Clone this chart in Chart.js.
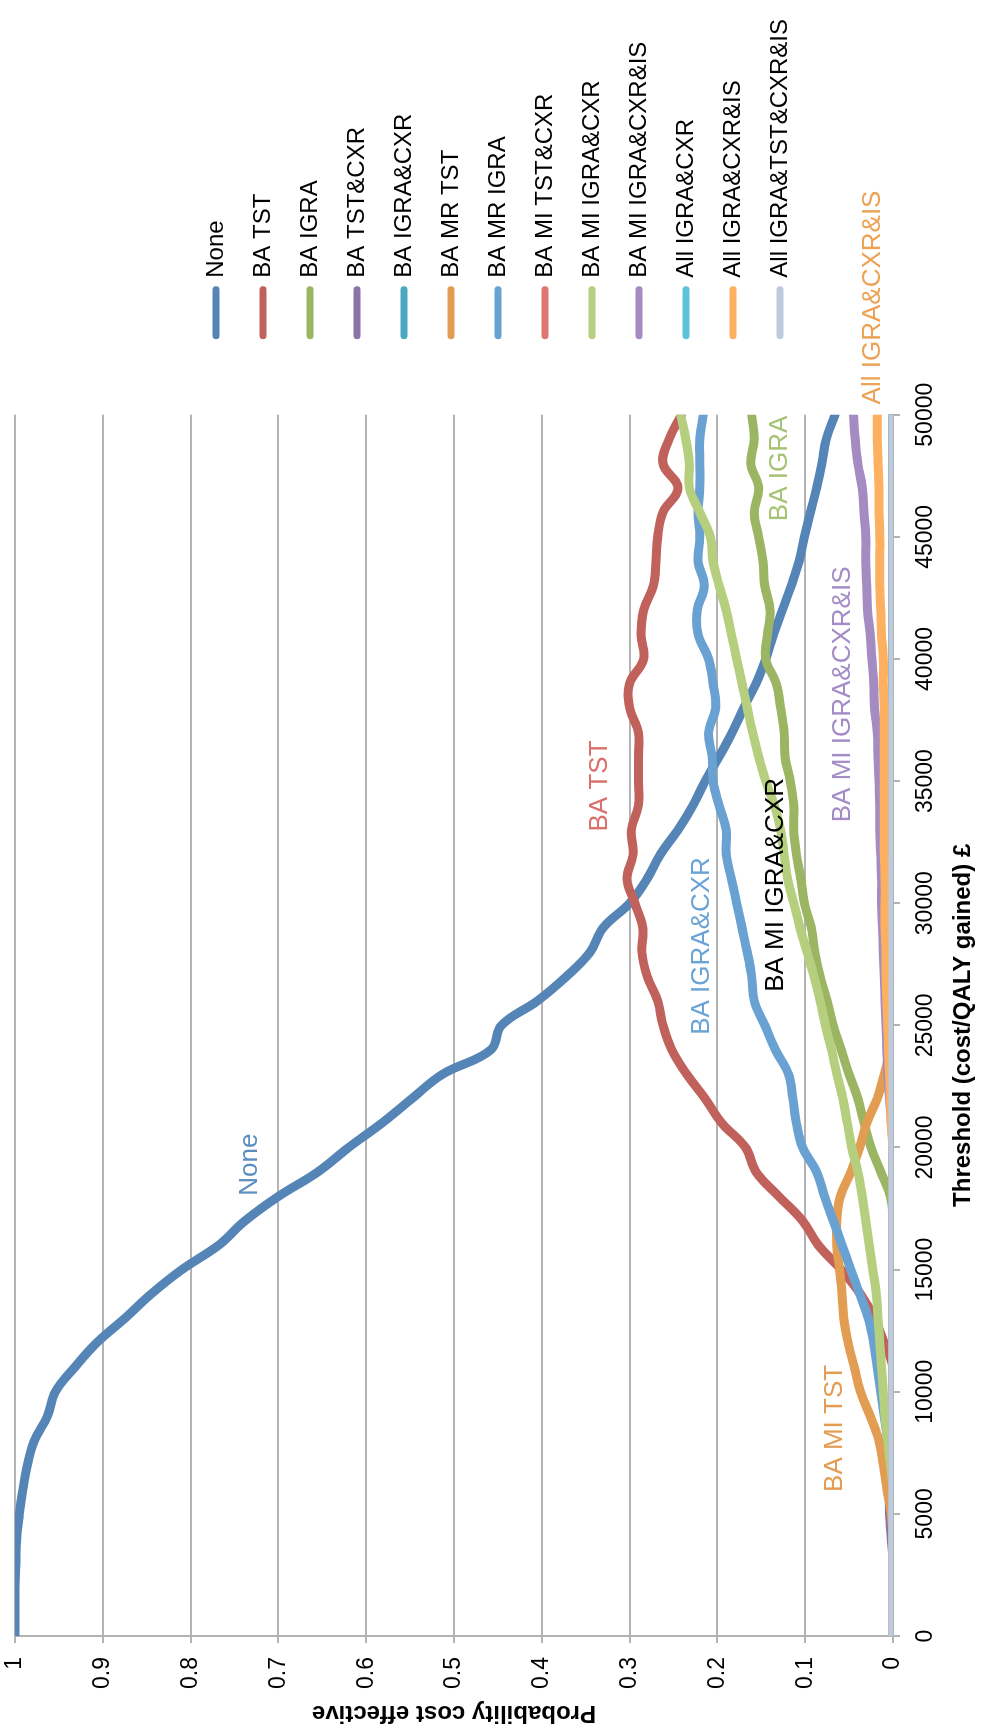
<!DOCTYPE html>
<html>
<head>
<meta charset="utf-8">
<title>Probability cost effective</title>
<script src="https://cdn.jsdelivr.net/npm/chart.js@4/dist/chart.umd.min.js"></script>
<style>
    html, body {
        margin: 0;
        padding: 0;
        background: #fff;
        overflow: hidden;
    }
    /* the chart is laid out landscape and turned a quarter turn to fit the page */
    #wrap {
        position: absolute;
        left: 0;
        top: 0;
        width: 1735px;
        height: 981px;
        transform-origin: 0 0;
        transform: translate(0, 1735px) rotate(-90deg);
    }
</style>
</head>
<body>
<div id="wrap">
    <canvas id="ceacChart" width="1735" height="981"></canvas>
</div>
<script>
// willingness-to-pay thresholds (£ per QALY gained)
var thresholds = [0, 1000, 2000, 3000, 4000, 5000, 6000, 7000, 8000, 9000,
    10000, 11000, 12000, 13000, 14000, 15000, 16000, 17000, 18000, 19000,
    20000, 21000, 22000, 23000, 24000, 25000, 26000, 27000, 28000, 29000,
    30000, 31000, 32000, 33000, 34000, 35000, 36000, 37000, 38000, 39000,
    40000, 41000, 42000, 43000, 44000, 45000, 46000, 47000, 48000, 49000, 50000];

var seriesNames = ['None', 'BA TST', 'BA IGRA', 'BA TST&CXR', 'BA IGRA&CXR', 'BA MR TST',
    'BA MR IGRA', 'BA MI TST&CXR', 'BA MI IGRA&CXR', 'BA MI IGRA&CXR&IS',
    'All IGRA&CXR', 'All IGRA&CXR&IS', 'All IGRA&TST&CXR&IS'];

var noneVals = [1, 1, 1, 0.999, 0.998, 0.995, 0.991, 0.986, 0.978, 0.963,
    0.954, 0.932, 0.907, 0.875, 0.845, 0.81, 0.768, 0.738, 0.7, 0.655,
    0.62, 0.582, 0.548, 0.513, 0.458, 0.446, 0.405, 0.372, 0.345, 0.33,
    0.3, 0.28, 0.265, 0.245, 0.228, 0.214, 0.198, 0.183, 0.17, 0.156,
    0.145, 0.136, 0.126, 0.116, 0.107, 0.101, 0.094, 0.087, 0.081, 0.076, 0.066];

var baTstVals = [0, 0, 0, 0, 0, 0, 0, 0, 0, 0,
    0, 0, 0.01, 0.021, 0.037, 0.059, 0.085, 0.103, 0.13, 0.156,
    0.168, 0.195, 0.214, 0.235, 0.252, 0.262, 0.268, 0.28, 0.286, 0.285,
    0.294, 0.303, 0.296, 0.298, 0.29, 0.29, 0.29, 0.29, 0.3, 0.3,
    0.284, 0.287, 0.284, 0.273, 0.27, 0.268, 0.262, 0.245, 0.262, 0.255, 0.241];

var baIgraVals = [0, 0, 0, 0, 0, 0, 0, 0, 0, 0,
    0, 0, 0, 0, 0, 0, 0, 0, 0.003, 0.014,
    0.025, 0.033, 0.04, 0.05, 0.059, 0.068, 0.075, 0.083, 0.089, 0.093,
    0.101, 0.105, 0.11, 0.113, 0.113, 0.117, 0.123, 0.124, 0.128, 0.133,
    0.145, 0.143, 0.14, 0.146, 0.148, 0.153, 0.158, 0.153, 0.162, 0.158, 0.161];

var baTstCxrVals = [0, 0, 0, 0, 0.002, 0.004, 0.004, 0.001, 0, 0,
    0, 0, 0, 0, 0, 0, 0, 0, 0, 0,
    0, 0, 0, 0, 0, 0, 0, 0, 0, 0,
    0, 0, 0, 0, 0, 0, 0, 0, 0, 0,
    0, 0, 0, 0, 0, 0, 0, 0, 0, 0, 0];

var zeroVals = [0, 0, 0, 0, 0, 0, 0, 0, 0, 0,
    0, 0, 0, 0, 0, 0, 0, 0, 0, 0,
    0, 0, 0, 0, 0, 0, 0, 0, 0, 0,
    0, 0, 0, 0, 0, 0, 0, 0, 0, 0,
    0, 0, 0, 0, 0, 0, 0, 0, 0, 0, 0];

var baMrTstVals = [0, 0, 0, 0, 0, 0.002, 0.007, 0.011, 0.016, 0.026,
    0.037, 0.044, 0.051, 0.056, 0.058, 0.061, 0.064, 0.064, 0.06, 0.048,
    0.038, 0.03, 0.018, 0.01, 0.003, 0, 0, 0, 0, 0,
    0, 0, 0, 0, 0, 0, 0, 0, 0, 0,
    0, 0, 0, 0, 0, 0, 0, 0, 0, 0, 0];

var baMrIgraVals = [0, 0, 0, 0, 0, 0, 0, 0.002, 0.006, 0.01,
    0.014, 0.018, 0.022, 0.028, 0.038, 0.048, 0.058, 0.068, 0.078, 0.087,
    0.103, 0.11, 0.114, 0.119, 0.134, 0.146, 0.158, 0.161, 0.166, 0.172,
    0.178, 0.184, 0.19, 0.19, 0.198, 0.205, 0.206, 0.21, 0.202, 0.205,
    0.21, 0.222, 0.223, 0.215, 0.222, 0.22, 0.222, 0.22, 0.22, 0.22, 0.216];

var baMiIgraCxrVals = [0, 0, 0, 0, 0, 0, 0, 0.003, 0.006, 0.009,
    0.011, 0.013, 0.015, 0.017, 0.019, 0.023, 0.027, 0.031, 0.035, 0.04,
    0.047, 0.052, 0.057, 0.064, 0.07, 0.077, 0.083, 0.09, 0.098, 0.106,
    0.113, 0.12, 0.124, 0.128, 0.135, 0.145, 0.153, 0.16, 0.166, 0.172,
    0.178, 0.184, 0.19, 0.198, 0.205, 0.208, 0.22, 0.232, 0.232, 0.236, 0.242];

var baMiIgraCxrIsVals = [0, 0, 0, 0, 0, 0, 0, 0, 0, 0,
    0, 0, 0, 0, 0, 0, 0, 0, 0, 0,
    0, 0.002, 0.004, 0.006, 0.007, 0.008, 0.009, 0.01, 0.011, 0.012,
    0.013, 0.013, 0.014, 0.015, 0.015, 0.016, 0.017, 0.018, 0.021, 0.022,
    0.024, 0.026, 0.029, 0.03, 0.031, 0.031, 0.033, 0.035, 0.04, 0.043, 0.045];

var allIgraCxrIsVals = [0, 0, 0, 0, 0, 0, 0, 0, 0, 0,
    0, 0, 0, 0, 0, 0, 0, 0, 0, 0,
    0, 0.002, 0.003, 0.004, 0.005, 0.006, 0.007, 0.008, 0.008, 0.009,
    0.009, 0.009, 0.01, 0.01, 0.01, 0.01, 0.01, 0.01, 0.01, 0.011,
    0.011, 0.013, 0.014, 0.015, 0.015, 0.015, 0.016, 0.016, 0.017, 0.018, 0.018];

var seriesValues = [noneVals, baTstVals, baIgraVals, baTstCxrVals, zeroVals, baMrTstVals,
    baMrIgraVals, zeroVals, baMiIgraCxrVals, baMiIgraCxrIsVals,
    zeroVals, allIgraCxrIsVals, zeroVals];

var seriesColors = ['#5485b6', '#c0625b', '#9bb563', '#8a74a8', '#4aa8c0', '#e39d52',
    '#69a2d2', '#de7672', '#b5cf7e', '#a48cc2', '#5bc3dc', '#fdb05f', '#bccbe0'];

var yTicks = [0, 0.1, 0.2, 0.3, 0.4, 0.5, 0.6, 0.7, 0.8, 0.9, 1];

// curve labels written on the plot: [text, threshold, probability, colour]
var curveNotes = [
    ['None', 19300, 0.732, '#5a8dc0'],
    ['BA TST', 34800, 0.334, '#d9706c'],
    ['BA IGRA&CXR', 28250, 0.2175, '#6aa4d6'],
    ['BA MI IGRA&CXR', 30750, 0.133, '#000000'],
    ['BA IGRA', 47800, 0.129, '#a6c273'],
    ['BA MI IGRA&CXR&IS', 38550, 0.057, '#a48cc6'],
    ['All IGRA&CXR&IS', 54800, 0.023, '#eda255'],
    ['BA MI TST', 8500, 0.066, '#e39d52']
];

var fontFamily = "'Liberation Sans', Arial, Helvetica, sans-serif";

var curveNotesPlugin = {
    id: 'curveNotes',
    afterDatasetsDraw: function(chart) {
        var ctx = chart.ctx;
        var xScale = chart.scales.x;
        var yScale = chart.scales.y;
        ctx.save();
        ctx.font = '26px ' + fontFamily;
        ctx.textAlign = 'center';
        ctx.textBaseline = 'middle';
        curveNotes.forEach(function(note) {
            ctx.fillStyle = note[3];
            ctx.fillText(note[0], xScale.getPixelForValue(note[1]), yScale.getPixelForValue(note[2]));
        });
        ctx.restore();
    }
};

// the legend sits against the right edge, with open space between it and the plot
var legendGapPlugin = {
    id: 'legendGap',
    afterLayout: function(chart) {
        var shift = 56;
        chart.legend.left += shift;
        chart.legend.right += shift;
    }
};

document.addEventListener('DOMContentLoaded', function() {
    Chart.defaults.font.family = fontFamily;
    Chart.defaults.color = '#000';

    var datasets = seriesNames.map(function(name, i) {
        return {
            label: name,
            data: thresholds.map(function(t, j) {
                return { x: t, y: seriesValues[i][j] };
            }),
            borderColor: seriesColors[i],
            backgroundColor: seriesColors[i],
            borderWidth: 9,
            borderCapStyle: 'round',
            borderJoinStyle: 'round',
            pointRadius: 0,
            tension: 0.4,
            fill: false,
            clip: 0,
            // later series sit on top, as in the spreadsheet
            order: seriesNames.length - i
        };
    });

    var ctx = document.getElementById('ceacChart').getContext('2d');
    var ceacChart = new Chart(ctx, {
        type: 'line',
        data: { datasets: datasets },
        plugins: [curveNotesPlugin, legendGapPlugin],
        options: {
            responsive: false,
            animation: false,
            devicePixelRatio: 1,
            layout: {
                padding: { top: 15, right: 65, bottom: 0, left: 0 }
            },
            plugins: {
                tooltip: { enabled: false },
                legend: {
                    position: 'right',
                    align: 'center',
                    labels: {
                        usePointStyle: true,
                        pointStyle: 'line',
                        pointStyleWidth: 46,
                        padding: 23,
                        color: '#000',
                        font: { size: 24 },
                        generateLabels: function(chart) {
                            var items = Chart.defaults.plugins.legend.labels.generateLabels(chart);
                            items.forEach(function(item) {
                                item.lineWidth = 7;
                                item.lineCap = 'round';
                            });
                            return items;
                        },
                        sort: function(a, b) {
                            return a.datasetIndex - b.datasetIndex;
                        }
                    }
                }
            },
            scales: {
                x: {
                    type: 'linear',
                    min: 0,
                    max: 50000,
                    afterFit: function(scale) {
                        scale.height = 88;
                    },
                    ticks: {
                        stepSize: 5000,
                        maxRotation: 0,
                        padding: 12,
                        color: '#000',
                        font: { size: 23 },
                        callback: function(value) {
                            return String(value);
                        }
                    },
                    grid: {
                        drawOnChartArea: false,
                        tickLength: 7,
                        color: '#b3b3b3',
                        lineWidth: 2
                    },
                    border: { color: '#b3b3b3', width: 2 },
                    title: {
                        display: true,
                        text: 'Threshold (cost/QALY gained) £',
                        color: '#000',
                        font: { size: 24, weight: 'bold' },
                        padding: { top: 4, bottom: 3 }
                    }
                },
                y: {
                    min: 0,
                    max: 1,
                    afterFit: function(scale) {
                        scale.width = 99;
                        scale.paddingTop = 15;
                        scale.paddingBottom = 0;
                    },
                    afterBuildTicks: function(scale) {
                        scale.ticks = yTicks.map(function(v) {
                            return { value: v };
                        });
                    },
                    ticks: {
                        padding: 14,
                        color: '#000',
                        font: { size: 23 },
                        callback: function(value) {
                            return String(Math.round(value * 10) / 10);
                        }
                    },
                    grid: {
                        tickLength: 7,
                        color: '#b3b3b3',
                        lineWidth: 2
                    },
                    border: { color: '#b3b3b3', width: 2 },
                    title: {
                        display: true,
                        text: 'Probability cost effective',
                        color: '#000',
                        font: { size: 24, weight: 'bold' },
                        padding: { top: 8, bottom: 4 }
                    }
                }
            }
        }
    });
});
</script>
</body>
</html>
